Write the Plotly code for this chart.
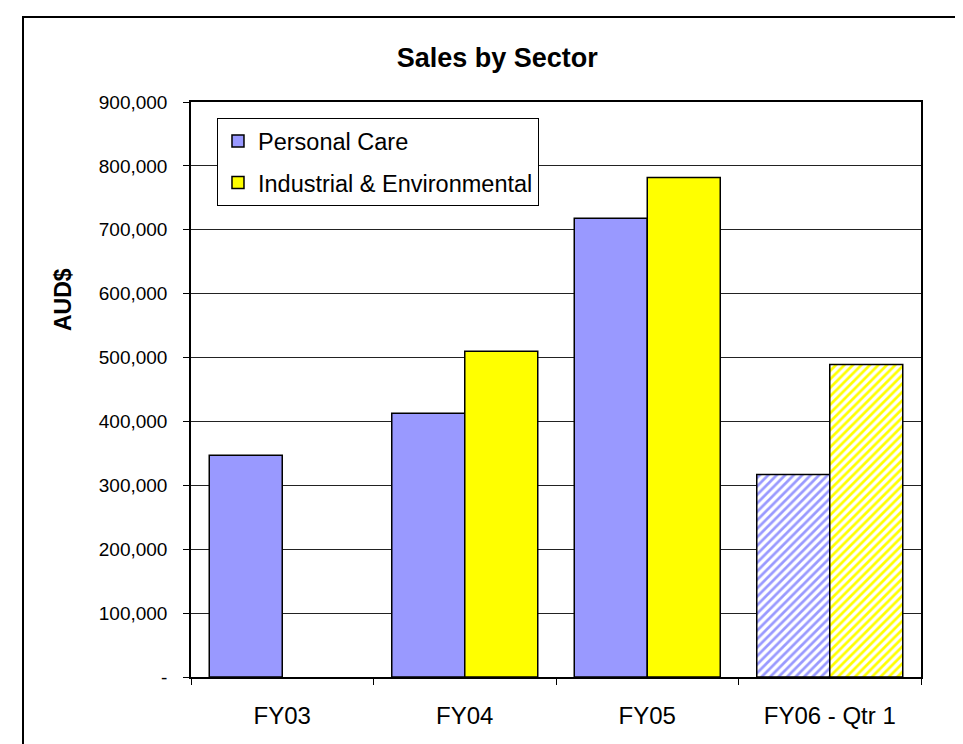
import plotly.graph_objects as go

categories = ["FY03", "FY04", "FY05", "FY06 - Qtr 1"]
personal_care = [347000, 413000, 718000, 317000]
industrial_env = [None, 510000, 782000, 489000]
series_names = ["Personal Care", "Industrial & Environmental"]
ytick_vals = [0, 100000, 200000, 300000, 400000, 500000, 600000, 700000, 800000, 900000]
ytick_text = ["-", "100,000", "200,000", "300,000", "400,000", "500,000",
              "600,000", "700,000", "800,000", "900,000"]
pattern_shapes = ["", "", "", "/"]

FONT = "Liberation Sans, Arial, sans-serif"

fig = go.Figure()
fig.add_trace(go.Bar(
    x=categories, y=personal_care, name=series_names[0], legendgroup="a",
    marker=dict(color="#9999FF", line=dict(color="black", width=1.5),
                pattern=dict(shape=pattern_shapes, fgcolor="#9999FF", bgcolor="white",
                             size=6, solidity=0.45, fillmode="replace")),
))
fig.add_trace(go.Bar(
    x=categories, y=industrial_env, name=series_names[1], legendgroup="b",
    marker=dict(color="#FFFF00", line=dict(color="black", width=1.5),
                pattern=dict(shape=pattern_shapes, fgcolor="#FFFF00", bgcolor="white",
                             size=6, solidity=0.45, fillmode="replace")),
))

fig.update_layout(
    width=963, height=744,
    margin=dict(l=183, r=50, t=94, b=75),
    paper_bgcolor="white", plot_bgcolor="white",
    barmode="group", bargap=0.2, bargroupgap=0,
    font=dict(family=FONT, color="black", size=19),
    title=dict(text="<b>Sales by Sector</b>", x=0.508, xanchor="center",
               y=1 - 50 / 744, yanchor="middle", font=dict(size=27)),
    legend=dict(x=0.0356, y=0.972, xanchor="left", yanchor="top",
                bordercolor="black", borderwidth=1, bgcolor="white",
                font=dict(size=23.5), itemwidth=30, traceorder="grouped",
                tracegroupgap=8),
    showlegend=True,
)
fig.update_xaxes(
    showline=True, linecolor="black", linewidth=1.5, mirror=True,
    ticks="outside", tickson="boundaries", ticklen=6, tickcolor="black",
    tickfont=dict(size=24), showgrid=False, ticklabelstandoff=16,
)
fig.update_yaxes(
    range=[0, 900000], tickvals=ytick_vals, ticktext=ytick_text,
    showline=True, linecolor="black", linewidth=1.5, mirror=True,
    ticks="outside", ticklen=6, tickcolor="black",
    showgrid=True, gridcolor="#222222", gridwidth=1,
    tickfont=dict(size=19), ticklabelstandoff=12,
    zeroline=False,
)
fig.add_annotation(text="<b>AUD$</b>", xref="paper", yref="paper",
                   x=(55 - 183) / 730, y=(669 - 292) / 575,
                   xanchor="center", yanchor="middle", textangle=-90,
                   showarrow=False, font=dict(size=23))
fig.add_shape(type="rect", xref="paper", yref="paper",
              x0=(15 - 183) / 730, x1=(962 - 183) / 730,
              y0=(669 - 760) / 575, y1=(669 - 9) / 575,
              line=dict(color="black", width=2), fillcolor="rgba(0,0,0,0)", layer="below")

fig.write_html("out.html")
